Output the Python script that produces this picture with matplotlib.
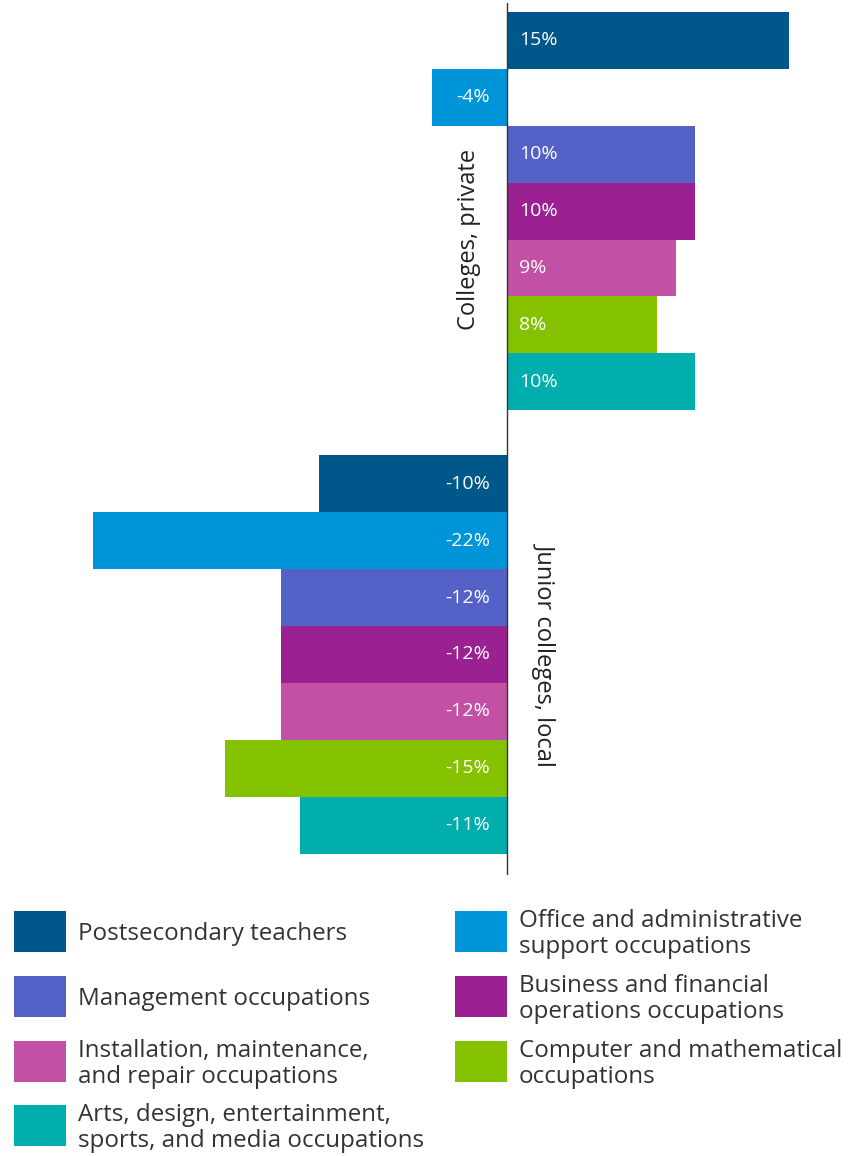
import matplotlib.pyplot as plt
from matplotlib.patches import Rectangle

plt.rcParams['font.family'] = ['Open Sans', 'DejaVu Sans']

# occupations, in drawing order (top to bottom inside each group)
occupations = [
    'Postsecondary teachers',
    'Office and administrative\nsupport occupations',
    'Management occupations',
    'Business and financial\noperations occupations',
    'Installation, maintenance,\nand repair occupations',
    'Computer and mathematical\noccupations',
    'Arts, design, entertainment,\nsports, and media occupations',
]
colors = ['#00578A', '#0095D8', '#5461C6', '#9B2192', '#C251A6', '#84C200', '#00AEAD']

groups = ['Colleges, private', 'Junior colleges, local']
private_change = [15, -4, 10, 10, 9, 8, 10]
junior_local_change = [-10, -22, -12, -12, -12, -15, -11]

W, H = 863, 1156
fig = plt.figure(figsize=(W / 100, H / 100), dpi=100)

# main bar axes: spans full width, from y=3px to y=875px
top_px, bot_px = 3, 875
ax = fig.add_axes([0, 1 - bot_px / H, 1, (bot_px - top_px) / H])

px_per_pct = 18.8
zero_px = 507
ax.set_xlim(-zero_px / px_per_pct, (W - zero_px) / px_per_pct)

bar_px = 56.9
gap = 45 / bar_px
first_top = 12
ax.set_ylim((bot_px - first_top) / bar_px - 0.5, -0.5 - (first_top - top_px) / bar_px)

n = len(occupations)
for g, values in enumerate([private_change, junior_local_change]):
    offset = g * (n + gap)
    for i, v in enumerate(values):
        y = offset + i
        ax.barh(y, v, height=1.0, color=colors[i], linewidth=0)
        if v >= 0:
            ax.text(12 / px_per_pct, y, f'{v}%', ha='left', va='center',
                    color='white', fontsize=14)
        else:
            ax.text(-17 / px_per_pct, y, f'{v}%', ha='right', va='center',
                    color='white', fontsize=14)

ax.axvline(0, color='#333333', linewidth=1.0)

# group titles, written along the zero line
ax.text(-38 / px_per_pct, 3.5, groups[0], rotation=90, ha='center', va='center',
        fontsize=17, color='#222222')
ax.text(38 / px_per_pct, n + gap + (n - 1) / 2, groups[1], rotation=270, ha='center',
        va='center', fontsize=17, color='#222222')

ax.axis('off')

# legend drawn in pixel space below the bars
lax = fig.add_axes([0, 0, 1, 1 - 880 / H])
lax.set_xlim(0, W)
lax.set_ylim(H, 880)
lax.axis('off')

col_x = [14, 455]
row_y = [931, 996, 1061, 1125]
for i, (label, c) in enumerate(zip(occupations, colors)):
    x0 = col_x[i % 2]
    yc = row_y[i // 2]
    lax.add_patch(Rectangle((x0, yc - 20.5), 52, 41, color=c, linewidth=0))
    lax.text(x0 + 64, yc + 3, label, ha='left', va='center', fontsize=17.4,
             color='#333333', linespacing=1.12)

fig.savefig('out.png', dpi=100)
